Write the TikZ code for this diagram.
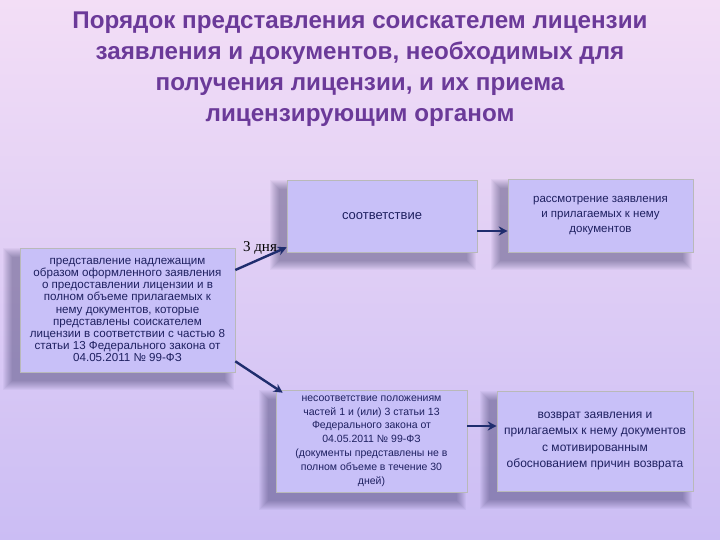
\documentclass[tikz,border=0pt]{standalone}
\usepackage{fontspec}
\setmainfont{Liberation Sans}
\newfontfamily\serifrm{Liberation Serif}
\usetikzlibrary{arrows.meta,backgrounds}
\definecolor{title-purple}{HTML}{6B3A99}
\definecolor{box-fill}{HTML}{C8C0F8}
\definecolor{box-text}{HTML}{1E2060}
\definecolor{arrow-navy}{HTML}{1F2D6E}
\definecolor{bg-top}{HTML}{F3DEF6}
\definecolor{bg-bottom}{HTML}{CBBDF4}
\tikzset{
    step-box/.style = {draw=white!45!gray, fill=box-fill, line width=0.6pt, rectangle, align=center,
        text=box-text, inner sep=1pt},
    soft-shadow/.style = {fill=black!80!blue, opacity=0.035},
    flow-arrow/.style = {draw=arrow-navy, line width=2.4pt, -{Stealth[length=9pt,width=9pt]}},
}

\begin{document}
\begin{tikzpicture}[x=1pt,y=-1pt]
\begin{scope}[on background layer]
\shade[top color=bg-top, bottom color=bg-bottom] (0,0) rectangle (720,540);
\end{scope}
\useasboundingbox (0,0) rectangle (720,540);

% title
\node[text=title-purple, font=\fontsize{24.2}{31}\selectfont\bfseries, align=center] (title) at (360,69)
    {Порядок представления соискателем лицензии\\
     заявления и документов, необходимых для\\
     получения лицензии, и их приема\\
     лицензирующим органом};

% boxes
\node[step-box, minimum width=215pt, minimum height=124pt, font=\fontsize{11.6}{12.2}\selectfont] (submit) at (127.5,310)
    {представление надлежащим\\ образом оформленного заявления\\ о предоставлении лицензии и в\\ полном объеме прилагаемых к\\
     нему документов, которые\\ представлены соискателем\\ лицензии в соответствии с частью 8\\
     статьи 13 Федерального закона от\\ 04.05.2011 № 99-ФЗ};
\node[step-box, minimum width=190pt, minimum height=72pt, font=\fontsize{13}{15}\selectfont] (match) at (382,216)
    {соответствие};
\node[step-box, minimum width=185pt, minimum height=73pt, font=\fontsize{11.5}{15}\selectfont] (review) at (600.5,215.5)
    {рассмотрение заявления\\ и прилагаемых к нему\\ документов};
\node[step-box, minimum width=191pt, minimum height=102pt, font=\fontsize{10.5}{13.8}\selectfont] (mismatch) at (371.5,441)
    {несоответствие положениям\\ частей 1 и (или) 3 статьи 13\\ Федерального закона от\\ 04.05.2011 № 99-ФЗ\\
     (документы представлены не в\\ полном объеме в течение 30\\ дней)};
\node[step-box, minimum width=196pt, minimum height=100pt, font=\fontsize{12}{16.5}\selectfont] (return) at (595,441)
    {возврат заявления и\\ прилагаемых к нему документов\\ с мотивированным\\ обоснованием причин возврата};

% shadows under the boxes
\begin{scope}[on background layer]
\foreach \n in {submit,match,review,mismatch,return}
  \foreach \e in {0,1,...,9}
    \fill[soft-shadow] ([xshift=-8pt-\e pt, yshift=-9pt-\e pt]\n.south west)
        rectangle ([xshift=-10pt+\e pt, yshift=-9pt+\e pt]\n.north east);
\end{scope}

% connectors
\draw[flow-arrow] ([yshift=40pt]submit.east) -- ([yshift=5pt]match.south west);
\node[text=black, font=\serifrm\fontsize{15}{16}\selectfont, inner sep=0pt] (days) at (260,248) {3 дня};
\draw[flow-arrow] ([yshift=11pt]submit.south east) -- ([shift={(7pt,-3pt)}]mismatch.north west);
\draw[flow-arrow] ([yshift=-15pt]match.east) -- ([yshift=-15.5pt]review.west);
\draw[flow-arrow] ([yshift=15pt]mismatch.east) -- ([yshift=15pt]return.west);
\end{tikzpicture}
\end{document}
